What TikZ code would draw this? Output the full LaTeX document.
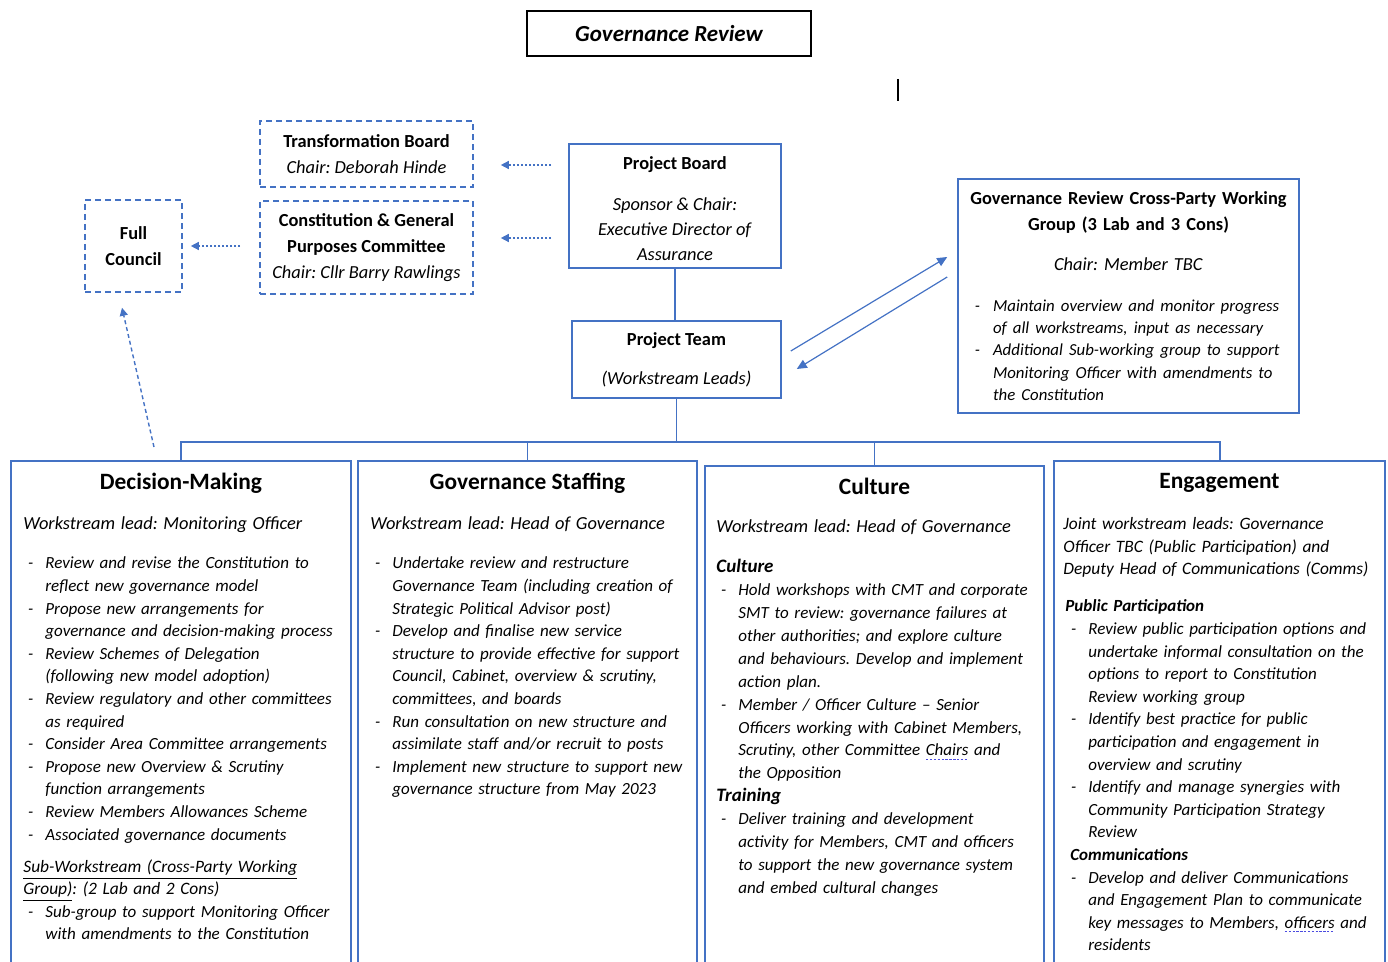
\documentclass[tikz,border=0pt]{standalone}
\usepackage{fontspec}
\setmainfont{Carlito}
\usepackage{enumitem}
\usetikzlibrary{positioning,calc,arrows.meta}
\definecolor{boxblue}{HTML}{4472C4}
\definecolor{markblue}{HTML}{4B4BE0}
\frenchspacing
\newlist{dashlist}{itemize}{1}
\setlist[dashlist]{label=-,leftmargin=11pt,labelsep=6pt,itemsep=0pt,parsep=0pt,topsep=0pt,partopsep=0pt}
\newsavebox{\spellbox}
\newcommand{\spellmark}[1]{\sbox{\spellbox}{#1}\rlap{\raisebox{-0.45ex}{\textcolor{markblue}{\hbox to \wd\spellbox{\xleaders\hbox{\rule{1.2pt}{0.5pt}\kern0.6pt}\hfill}}}}#1}
\newcommand{\wshead}{\fontsize{11.7}{14}\selectfont\bfseries}
\newcommand{\wsbody}{\fontsize{8.5}{11.3}\selectfont\itshape}
\newcommand{\wslead}{\fontsize{9.2}{11.3}\selectfont\itshape}
\newcommand{\wssub}{\fontsize{9.5}{11.3}\selectfont\bfseries\itshape}
\newcommand{\topfont}{\fontsize{9.2}{13}\selectfont}

\begin{document}
\begin{tikzpicture}[x=0.5pt,y=-0.5pt,
    wsframe/.style={draw=boxblue,line width=1pt,anchor=north west,inner sep=0pt},
    solidbox/.style={draw=boxblue,line width=0.8pt,align=center,font=\topfont,inner sep=0pt},
    dashbox/.style={solidbox,dash pattern=on 3pt off 2pt},
    wstitle/.style={font=\wshead,inner sep=0pt},
    wsbodytext/.style={anchor=base west,inner sep=0pt,text width=185pt,font=\wsbody,align=left},
    link/.style={draw=boxblue,line width=0.8pt},
    dasharrow/.style={draw=boxblue,line width=0.7pt,dash pattern=on 1pt off 1pt,-{Triangle[length=4pt,width=4pt]}},
    solidarrow/.style={draw=boxblue,line width=0.6pt,-{Triangle[length=5pt,width=4.5pt]}}]
\useasboundingbox (0,0) rectangle (1388,962);

\node[draw=black,line width=0.75pt,minimum width=142pt,minimum height=22.5pt,
  font=\fontsize{11.5}{14}\selectfont\bfseries\itshape] (title) at (669,33.5) {Governance Review};
\draw[line width=0.6pt] (898,79) -- (898,101);

\node[dashbox,minimum width=106.5pt,minimum height=33pt] (tb) at (366.5,154)
  {\textbf{Transformation Board}\\ \textit{Chair: Deborah Hinde}};
\node[dashbox,minimum width=106.5pt,minimum height=46.5pt] (cg) at (366.5,247.5)
  {\textbf{Constitution \& General}\\ \textbf{Purposes Committee}\\ \textit{Chair: Cllr Barry Rawlings}};
\node[dashbox,minimum width=48.5pt,minimum height=46pt] (fc) at (133.5,246)
  {\textbf{Full}\\ \textbf{Council}};
\node[solidbox,minimum width=106pt,minimum height=62pt,font=\fontsize{9.2}{12.5}\selectfont] (pb) at (675,206)
  {\rule{0pt}{9.5pt}\textbf{Project Board}\\[8pt] \textit{Sponsor \& Chair:}\\ \textit{Executive Director of}\\ \textit{Assurance}};
\node[solidbox,minimum width=104.5pt,minimum height=38.5pt] (pt) at (676.5,359.5)
  {\textbf{Project Team}\\[6.5pt] \textit{(Workstream Leads)}};
\node[solidbox,minimum width=170.5pt,minimum height=117pt,text width=170pt] (cp) at (1128.5,296)
  {\textbf{Governance Review Cross-Party Working}\\ \textbf{Group (3 Lab and 3 Cons)}\\[7pt]
   \textit{Chair: Member TBC}\par\vspace{9.5pt}
   {\fontsize{8.4}{11.1}\selectfont\itshape\raggedright
   \begin{dashlist}[leftmargin=17.25pt,labelsep=6.5pt]
   \item Maintain overview and monitor progress\newline of all workstreams, input as necessary
   \item Additional Sub-working group to support\newline Monitoring Officer with amendments to\newline the Constitution
   \end{dashlist}\par}};

% workstreams
\node[wsframe,minimum width=170pt,minimum height=260pt] (dm) at (10,460) {};
\node[wsframe,minimum width=169.5pt,minimum height=260pt] (gs) at (357,460) {};
\node[wsframe,minimum width=169.5pt,minimum height=260pt] (cu) at (704,465) {};
\node[wsframe,minimum width=165.5pt,minimum height=260pt] (en) at (1053,460) {};

\node[wstitle] (dmt) at ($(dm.north)+(0,23)$) {Decision-Making};
\node[wstitle] (gst) at ($(gs.north)+(0,23)$) {Governance Staffing};
\node[wstitle] (cut) at ($(cu.north)+(0,21)$) {Culture};
\node[wstitle] (ent) at ($(en.north)+(0,23)$) {Engagement};

\node[wsbodytext] (dmb) at (23,530) {%
  {\wslead Workstream lead: Monitoring Officer\par}\vspace{8.2pt}
  \begin{dashlist}
  \item Review and revise the Constitution to\newline reflect new governance model
  \item Propose new arrangements for\newline governance and decision-making process
  \item Review Schemes of Delegation\newline (following new model adoption)
  \item Review regulatory and other committees\newline as required
  \item Consider Area Committee arrangements
  \item Propose new Overview \& Scrutiny\newline function arrangements
  \item Review Members Allowances Scheme
  \item Associated governance documents
  \end{dashlist}\vspace{4.7pt}
  {\fontsize{8.7}{11.3}\selectfont\itshape \underline{Sub-Workstream (Cross-Party Working}\newline\underline{Group)}: (2 Lab and 2 Cons)\par}
  \begin{dashlist}
  \item Sub-group to support Monitoring Officer\newline with amendments to the Constitution
  \end{dashlist}};

\node[wsbodytext] (gsb) at (370,530) {%
  {\wslead Workstream lead: Head of Governance\par}\vspace{8.2pt}
  \begin{dashlist}
  \item Undertake review and restructure\newline Governance Team (including creation of\newline Strategic Political Advisor post)
  \item Develop and finalise new service\newline structure to provide effective for support\newline Council, Cabinet, overview \& scrutiny,\newline committees, and boards
  \item Run consultation on new structure and\newline assimilate staff and/or recruit to posts
  \item Implement new structure to support new\newline governance structure from May 2023
  \end{dashlist}};

\node[wsbodytext,font=\fontsize{8.5}{11.45}\selectfont\itshape] (cub) at (716,533) {%
  {\wslead Workstream lead: Head of Governance\par}\vspace{8.6pt}
  {\wssub Culture\par}
  \begin{dashlist}
  \item Hold workshops with CMT and corporate\newline SMT to review: governance failures at\newline other authorities; and explore culture\newline and behaviours. Develop and implement\newline action plan.
  \item Member / Officer Culture -- Senior\newline Officers working with Cabinet Members,\newline Scrutiny, other Committee \spellmark{Chairs} and\newline the Opposition
  \end{dashlist}
  {\wssub Training\par}
  \begin{dashlist}
  \item Deliver training and development\newline activity for Members, CMT and officers\newline to support the new governance system\newline and embed cultural changes
  \end{dashlist}};

\node[wsbodytext] (enb) at (1063,530) {%
  {\fontsize{8.7}{11.25}\selectfont\itshape Joint workstream leads: Governance\newline Officer TBC (Public Participation) and\newline Deputy Head of Communications (Comms)\par}\vspace{7.2pt}
  {\fontsize{8.5}{11.3}\selectfont\bfseries\itshape\hspace*{1pt}Public Participation\par}
  \begin{dashlist}[leftmargin=12.5pt]
  \item Review public participation options and\newline undertake informal consultation on the\newline options to report to Constitution\newline Review working group
  \item Identify best practice for public\newline participation and engagement in\newline overview and scrutiny
  \item Identify and manage synergies with\newline Community Participation Strategy\newline Review
  \end{dashlist}
  {\fontsize{8.5}{11.3}\selectfont\bfseries\itshape\hspace*{3.5pt}Communications\par}
  \begin{dashlist}[leftmargin=12.5pt]
  \item Develop and deliver Communications\newline and Engagement Plan to communicate\newline key messages to Members, \spellmark{officers} and\newline residents
  \end{dashlist}};

% connectors
\coordinate (bus) at (676,442);
\draw[link] (pb.south) -- (pb.south |- pt.north);
\draw[link] (pt.south) -- (pt.south |- bus);
\draw[link,line width=1pt] (dm.north) |- (bus) -| (en.north);
\draw[link] (gs.north) -- (gs.north |- bus);
\draw[link] (cu.north) -- (cu.north |- bus);

\draw[dasharrow] ($(tb.east -| pb.west)+(-17,11)$) -- ($(tb.east)+(27,11)$);
\draw[dasharrow] ($(cg.east -| pb.west)+(-17,-9.5)$) -- ($(cg.east)+(27,-9.5)$);
\draw[dasharrow] ($(cg.west)+(-19,-1.5)$) -- ($(fc.east)+(8,0)$);
\draw[dasharrow,dash pattern=on 2pt off 1.5pt] ($(dm.north)+(-27,-13)$) -- ($(fc.south)+(-11.5,15)$);

\draw[solidarrow] ($(pt.east)+(9,-8.5)$) -- ($(cp.west)+(-10,-39)$);
\draw[solidarrow] ($(cp.west)+(-10,-19)$) -- ($(pt.east)+(15,9.5)$);
\end{tikzpicture}
\end{document}
